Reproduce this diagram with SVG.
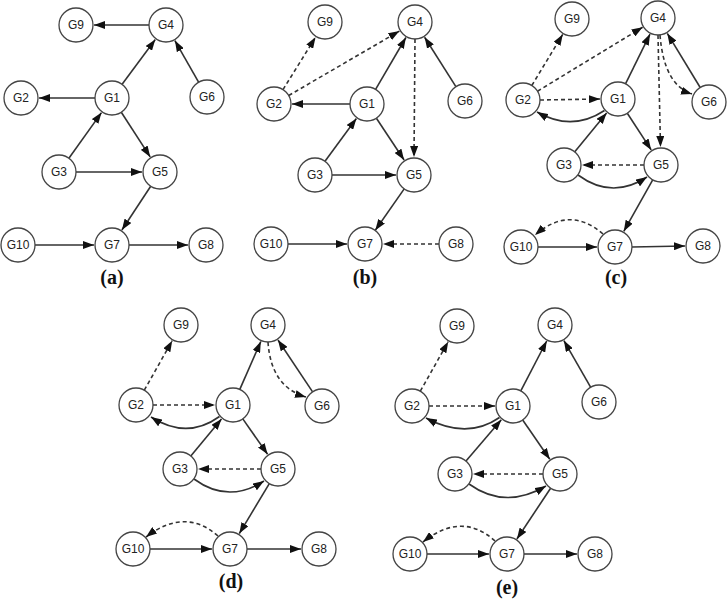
<svg xmlns="http://www.w3.org/2000/svg" width="728" height="599" viewBox="0 0 728 599">
<style>
.n circle{fill:#fff;stroke:#444;stroke-width:1.3}
.n text{font-family:"Liberation Sans",Arial,sans-serif;font-size:12px;fill:#222;text-anchor:middle;dominant-baseline:central}
.e{fill:none;stroke:#333;stroke-width:1.6;marker-end:url(#ah)}
.d{stroke-dasharray:4 3}
.lab{font-family:"Liberation Serif","Times New Roman",serif;font-size:20px;font-weight:bold;fill:#111;text-anchor:middle}
</style>
<defs>
<marker id="ah" markerUnits="userSpaceOnUse" markerWidth="11" markerHeight="8" refX="11" refY="4" orient="auto">
<path d="M0,0 L11,4 L0,8 z" fill="#111"/>
</marker>
</defs>
<rect width="728" height="599" fill="#fff"/>
<g id="connectors">
<!-- (a) -->
<path class="e" d="M149,25 L94,25"/>
<path class="e" d="M122.1,84.3 L155.3,39.5"/>
<path class="e" d="M198.6,82.2 L174.9,40.6"/>
<path class="e" d="M95,98 L39,98"/>
<path class="e" d="M68.9,158.2 L101.5,112.6"/>
<path class="e" d="M121.3,112.3 L150.2,156.9"/>
<path class="e" d="M76,172 L142,172"/>
<path class="e" d="M150.7,186.2 L121.9,230"/>
<path class="e" d="M35,245 L94,245"/>
<path class="e" d="M129,245 L188,245"/>
<!-- (b) -->
<path class="e d" d="M283,89.6 L315.5,37.3"/>
<path class="e d" d="M288.7,95.5 L399.4,31.1"/>
<path class="e" d="M375.6,89.3 L405.9,37.5"/>
<path class="e" d="M455.9,86.6 L424.6,37.2"/>
<path class="e" d="M350,104 L292,104"/>
<path class="e" d="M325,161.3 L356.4,118.5"/>
<path class="e" d="M376.4,118.2 L404.1,160"/>
<path class="e" d="M332,175 L396,175"/>
<path class="e d" d="M415,39 L414,157"/>
<path class="e" d="M404.2,188.9 L375.3,230.2"/>
<path class="e" d="M288,244 L347,244"/>
<path class="e d" d="M439,244 L383,244"/>
<!-- (c) -->
<path class="e d" d="M531.8,85.5 L562.7,34.4"/>
<path class="e d" d="M537.5,91.2 L642.6,27.3"/>
<path class="e d" d="M540,100 L600,99"/>
<path class="e" d="M604.5,110.5 Q572,132 537,112"/>
<path class="e" d="M625.5,83.8 L650,34.1"/>
<path class="e" d="M700.2,87.5 L667.3,33.4"/>
<path class="e d" d="M660,35 Q664,85 692,94"/>
<path class="e d" d="M658,35 L660.5,147"/>
<path class="e" d="M627.3,113.2 L651.2,149.9"/>
<path class="e" d="M574.8,151.8 L606.6,112.9"/>
<path class="e d" d="M644,165 L582,165"/>
<path class="e" d="M578,175 Q612,200 647,177"/>
<path class="e" d="M652.7,179.8 L623.8,231.3"/>
<path class="e d" d="M603,234 Q570,205 535,235"/>
<path class="e" d="M538,247 L597,247"/>
<path class="e" d="M632,247 L685,246"/>
<!-- (d) -->
<path class="e d" d="M144.3,390.2 L172.2,340.7"/>
<path class="e d" d="M153,405 L215,405"/>
<path class="e" d="M219.5,416.5 Q187,440 151,417"/>
<path class="e" d="M239.8,389.4 L260.8,341.5"/>
<path class="e" d="M312.6,391.9 L278,340"/>
<path class="e d" d="M268,342 Q271,387 306,397"/>
<path class="e" d="M242.8,418.9 L267.6,454.3"/>
<path class="e" d="M190.8,455.9 L221.5,418.9"/>
<path class="e d" d="M261,469 L198,469"/>
<path class="e" d="M194,479 Q228,504 264,481"/>
<path class="e" d="M269.3,483.6 L239.3,533.6"/>
<path class="e d" d="M218,536 Q185,507 146,537"/>
<path class="e" d="M150,549 L212,549"/>
<path class="e" d="M247,549 L301,549"/>
<!-- (e) -->
<path class="e d" d="M420.3,391.2 L448.2,341.7"/>
<path class="e d" d="M429,406 L495,406"/>
<path class="e" d="M499.5,417.5 Q467,440 426,418"/>
<path class="e" d="M520.8,390.9 L546.7,341"/>
<path class="e" d="M590.6,387.2 L563.9,340.6"/>
<path class="e" d="M522.7,420 L549.8,459.2"/>
<path class="e" d="M466,461.1 L501.3,419.7"/>
<path class="e d" d="M543,474 L473,474"/>
<path class="e" d="M469,484 Q505,510 546,486"/>
<path class="e" d="M550.6,488.2 L516.9,539"/>
<path class="e d" d="M495,541 Q462,511 423,542"/>
<path class="e" d="M427,554 L489,554"/>
<path class="e" d="M524,554 L577,554"/>
</g>
<!-- panel (a) nodes -->
<g id="a-G9" class="n"><circle cx="76" cy="25" r="17"/><text x="76" y="25">G9</text></g>
<g id="a-G4" class="n"><circle cx="166" cy="25" r="17"/><text x="166" y="25">G4</text></g>
<g id="a-G2" class="n"><circle cx="21" cy="98" r="17"/><text x="21" y="98">G2</text></g>
<g id="a-G1" class="n"><circle cx="112" cy="98" r="17"/><text x="112" y="98">G1</text></g>
<g id="a-G6" class="n"><circle cx="207" cy="97" r="17"/><text x="207" y="97">G6</text></g>
<g id="a-G3" class="n"><circle cx="59" cy="172" r="17"/><text x="59" y="172">G3</text></g>
<g id="a-G5" class="n"><circle cx="160" cy="172" r="17"/><text x="160" y="172">G5</text></g>
<g id="a-G10" class="n"><circle cx="18" cy="245" r="17"/><text x="18" y="245">G10</text></g>
<g id="a-G7" class="n"><circle cx="112" cy="245" r="17"/><text x="112" y="245">G7</text></g>
<g id="a-G8" class="n"><circle cx="206" cy="245" r="17"/><text x="206" y="245">G8</text></g>
<!-- panel (b) nodes -->
<g id="b-G9" class="n"><circle cx="325" cy="22" r="17"/><text x="325" y="22">G9</text></g>
<g id="b-G4" class="n"><circle cx="415" cy="22" r="17"/><text x="415" y="22">G4</text></g>
<g id="b-G2" class="n"><circle cx="274" cy="104" r="17"/><text x="274" y="104">G2</text></g>
<g id="b-G1" class="n"><circle cx="367" cy="104" r="17"/><text x="367" y="104">G1</text></g>
<g id="b-G6" class="n"><circle cx="465" cy="101" r="17"/><text x="465" y="101">G6</text></g>
<g id="b-G3" class="n"><circle cx="315" cy="175" r="17"/><text x="315" y="175">G3</text></g>
<g id="b-G5" class="n"><circle cx="414" cy="175" r="17"/><text x="414" y="175">G5</text></g>
<g id="b-G10" class="n"><circle cx="271" cy="244" r="17"/><text x="271" y="244">G10</text></g>
<g id="b-G7" class="n"><circle cx="365" cy="244" r="17"/><text x="365" y="244">G7</text></g>
<g id="b-G8" class="n"><circle cx="456" cy="244" r="17"/><text x="456" y="244">G8</text></g>
<!-- panel (c) nodes -->
<g id="c-G9" class="n"><circle cx="572" cy="19" r="17"/><text x="572" y="19">G9</text></g>
<g id="c-G4" class="n"><circle cx="658" cy="18" r="17"/><text x="658" y="18">G4</text></g>
<g id="c-G2" class="n"><circle cx="523" cy="100" r="17"/><text x="523" y="100">G2</text></g>
<g id="c-G1" class="n"><circle cx="618" cy="99" r="17"/><text x="618" y="99">G1</text></g>
<g id="c-G6" class="n"><circle cx="709" cy="102" r="17"/><text x="709" y="102">G6</text></g>
<g id="c-G3" class="n"><circle cx="564" cy="165" r="17"/><text x="564" y="165">G3</text></g>
<g id="c-G5" class="n"><circle cx="661" cy="165" r="17"/><text x="661" y="165">G5</text></g>
<g id="c-G10" class="n"><circle cx="521" cy="247" r="17"/><text x="521" y="247">G10</text></g>
<g id="c-G7" class="n"><circle cx="615" cy="247" r="17"/><text x="615" y="247">G7</text></g>
<g id="c-G8" class="n"><circle cx="703" cy="246" r="17"/><text x="703" y="246">G8</text></g>
<!-- panel (d) nodes -->
<g id="d-G9" class="n"><circle cx="181" cy="325" r="17"/><text x="181" y="325">G9</text></g>
<g id="d-G4" class="n"><circle cx="268" cy="325" r="17"/><text x="268" y="325">G4</text></g>
<g id="d-G2" class="n"><circle cx="136" cy="405" r="17"/><text x="136" y="405">G2</text></g>
<g id="d-G1" class="n"><circle cx="233" cy="405" r="17"/><text x="233" y="405">G1</text></g>
<g id="d-G6" class="n"><circle cx="322" cy="406" r="17"/><text x="322" y="406">G6</text></g>
<g id="d-G3" class="n"><circle cx="180" cy="469" r="17"/><text x="180" y="469">G3</text></g>
<g id="d-G5" class="n"><circle cx="278" cy="469" r="17"/><text x="278" y="469">G5</text></g>
<g id="d-G10" class="n"><circle cx="133" cy="549" r="17"/><text x="133" y="549">G10</text></g>
<g id="d-G7" class="n"><circle cx="230" cy="549" r="17"/><text x="230" y="549">G7</text></g>
<g id="d-G8" class="n"><circle cx="319" cy="549" r="17"/><text x="319" y="549">G8</text></g>
<!-- panel (e) nodes -->
<g id="e-G9" class="n"><circle cx="457" cy="326" r="17"/><text x="457" y="326">G9</text></g>
<g id="e-G4" class="n"><circle cx="555" cy="325" r="17"/><text x="555" y="325">G4</text></g>
<g id="e-G2" class="n"><circle cx="412" cy="406" r="17"/><text x="412" y="406">G2</text></g>
<g id="e-G1" class="n"><circle cx="513" cy="406" r="17"/><text x="513" y="406">G1</text></g>
<g id="e-G6" class="n"><circle cx="599" cy="402" r="17"/><text x="599" y="402">G6</text></g>
<g id="e-G3" class="n"><circle cx="455" cy="474" r="17"/><text x="455" y="474">G3</text></g>
<g id="e-G5" class="n"><circle cx="560" cy="474" r="17"/><text x="560" y="474">G5</text></g>
<g id="e-G10" class="n"><circle cx="410" cy="554" r="17"/><text x="410" y="554">G10</text></g>
<g id="e-G7" class="n"><circle cx="507" cy="554" r="17"/><text x="507" y="554">G7</text></g>
<g id="e-G8" class="n"><circle cx="595" cy="554" r="17"/><text x="595" y="554">G8</text></g>
<g id="labels">
<text class="lab" x="112" y="284">(a)</text>
<text class="lab" x="365" y="284">(b)</text>
<text class="lab" x="616" y="284">(c)</text>
<text class="lab" x="231" y="588">(d)</text>
<text class="lab" x="507" y="594">(e)</text>
</g>
</svg>
